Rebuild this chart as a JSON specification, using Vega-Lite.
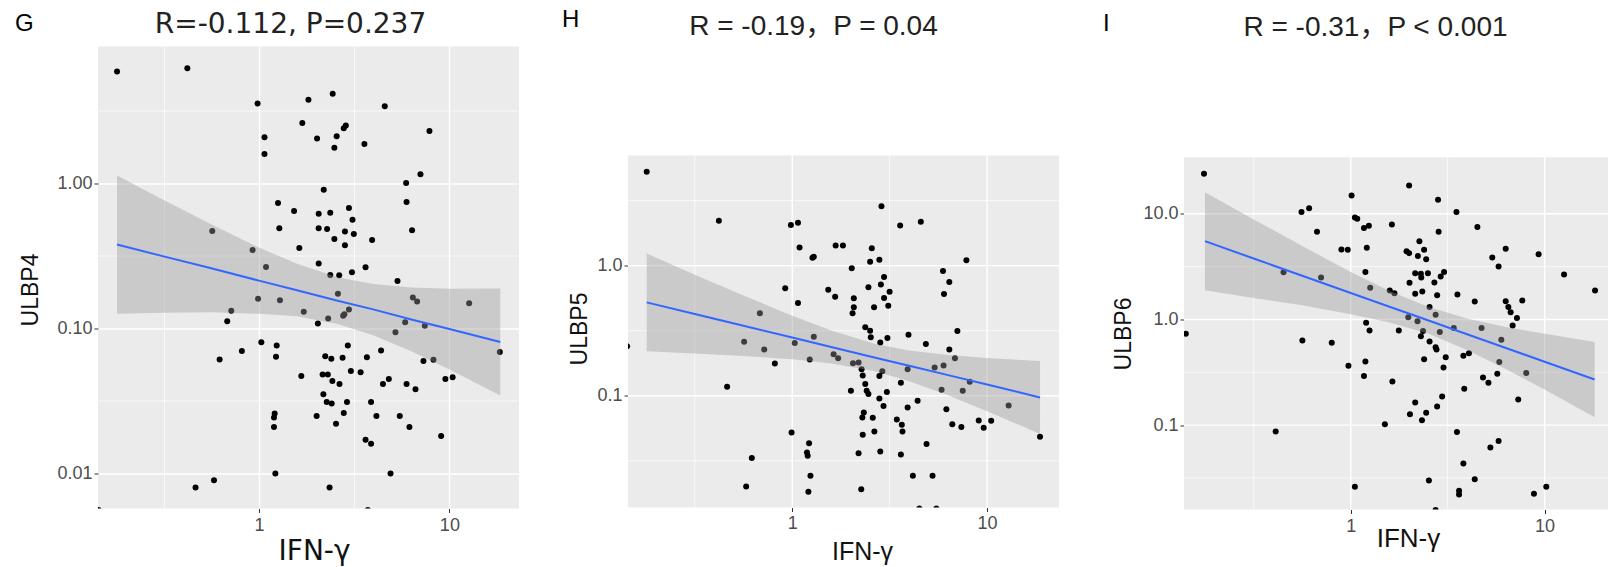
{
  "$schema": "https://vega.github.io/schema/vega-lite/v6.json",
  "background": "white",
  "padding": {"left": 14, "top": 7.5, "right": 0, "bottom": 0},
  "bounds": "full",
  "spacing": 42,
  "config": {
    "view": {"stroke": null},
    "axis": {
      "domain": false,
      "grid": false,
      "gridColor": "#FFFFFF",
      "tickColor": "#333333",
      "tickSize": 4,
      "tickWidth": 1,
      "labelColor": "#4D4D4D",
      "labelFont": "Liberation Sans",
      "labelFontSize": 18,
      "labelOverlap": false,
      "labelFlush": false,
      "titleColor": "#111111",
      "titleFont": "Liberation Sans",
      "titleFontWeight": "normal"
    },
    "title": {"fontWeight": "normal", "color": "#111111", "font": "Liberation Sans", "baseline": "bottom"}
  },
  "datasets": {
    "ptsG": [
      {"x":0.180,"y":5.87},{"x":0.421,"y":6.18},{"x":0.984,"y":3.53},{"x":1.82,"y":3.75},{"x":2.44,"y":4.12},{"x":4.58,"y":3.39},{"x":1.69,"y":2.59},{"x":2.86,"y":2.49},{"x":2.79,"y":2.39},{"x":7.86,"y":2.29},{"x":1.07,"y":2.07},{"x":2.02,"y":2.03},{"x":2.56,"y":2.10},{"x":2.49,"y":1.75},{"x":3.58,"y":1.86},{"x":1.07,"y":1.59},{"x":7.05,"y":1.15},{"x":5.93,"y":1.00},{"x":2.19,"y":0.90},
      {"x":1.26,"y":0.729},{"x":5.96,"y":0.740},{"x":1.53,"y":0.642},{"x":2.06,"y":0.615},{"x":2.37,"y":0.625},{"x":2.97,"y":0.673},{"x":3.10,"y":0.560},{"x":0.569,"y":0.468},{"x":1.28,"y":0.488},{"x":2.06,"y":0.488},{"x":2.28,"y":0.483},{"x":2.83,"y":0.465},{"x":3.15,"y":0.446},{"x":2.49,"y":0.412},{"x":3.93,"y":0.405},{"x":6.37,"y":0.473},{"x":2.83,"y":0.373},{"x":0.927,"y":0.346},{"x":1.63,"y":0.357},{"x":2.06,"y":0.279},{"x":1.09,"y":0.264},{"x":3.63,"y":0.263},{"x":3.08,"y":0.243},{"x":2.37,"y":0.233},{"x":2.64,"y":0.232},{"x":5.34,"y":0.212},{"x":2.60,"y":0.173},{"x":0.99,"y":0.160},{"x":1.29,"y":0.156},{"x":6.43,"y":0.163},{"x":6.77,"y":0.153},{"x":12.7,"y":0.149},{"x":2.97,"y":0.135},{"x":2.81,"y":0.125},{"x":2.77,"y":0.122},{"x":0.716,"y":0.132},{"x":1.72,"y":0.130},{"x":0.682,"y":0.112},{"x":2.31,"y":0.117},{"x":2.04,"y":0.108},{"x":5.86,"y":0.110},{"x":7.43,"y":0.104},{"x":5.21,"y":0.0938},{"x":1.03,"y":0.0801},{"x":1.24,"y":0.0760},{"x":2.93,"y":0.0760},{"x":0.814,"y":0.0698},{"x":4.38,"y":0.0702},{"x":18.4,"y":0.0687},{"x":0.622,"y":0.0609},{"x":1.23,"y":0.0638},{"x":2.23,"y":0.0642},{"x":2.40,"y":0.0618},{"x":2.75,"y":0.0628},{"x":3.69,"y":0.0631},{"x":7.31,"y":0.0596},{"x":8.25,"y":0.0608},{"x":1.67,"y":0.0470},{"x":2.16,"y":0.0480},{"x":2.30,"y":0.0480},{"x":3.04,"y":0.0508},{"x":3.42,"y":0.0498},{"x":2.43,"y":0.0434},{"x":2.65,"y":0.0414},{"x":4.48,"y":0.0414},{"x":4.81,"y":0.0448},{"x":5.96,"y":0.0414},{"x":6.64,"y":0.0380},{"x":9.53,"y":0.0448},{"x":10.4,"y":0.0460},{"x":2.18,"y":0.0351},{"x":2.27,"y":0.0311},{"x":2.41,"y":0.0303},{"x":2.90,"y":0.0311},{"x":3.88,"y":0.0311},{"x":2.79,"y":0.0261},{"x":1.21,"y":0.0259},{"x":1.20,"y":0.0243},{"x":2.01,"y":0.0249},{"x":4.14,"y":0.0249},{"x":5.49,"y":0.0249},{"x":1.20,"y":0.0209},{"x":2.54,"y":0.0220},{"x":6.17,"y":0.0209},{"x":9.05,"y":0.0181},{"x":3.63,"y":0.0171},{"x":3.88,"y":0.0160},{"x":1.22,"y":0.0100},{"x":4.91,"y":0.0100},{"x":0.465,"y":0.0080},{"x":0.581,"y":0.00899},{"x":2.35,"y":0.0080},{"x":3.73,"y":0.0056},{"x":0.144,"y":0.0056}
    ],
    "bandG": [
      {"x":0.180,"fit":0.378,"lo":0.126,"hi":1.13},{"x":0.316,"fit":0.313,"lo":0.128,"hi":0.766},{"x":0.562,"fit":0.259,"lo":0.129,"hi":0.520},{"x":1,"fit":0.213,"lo":0.126,"hi":0.360},{"x":1.585,"fit":0.183,"lo":0.121,"hi":0.278},{"x":2.59,"fit":0.155,"lo":0.107,"hi":0.225},{"x":3.98,"fit":0.135,"lo":0.0895,"hi":0.202},{"x":6.31,"fit":0.115,"lo":0.0695,"hi":0.191},{"x":10,"fit":0.0989,"lo":0.0521,"hi":0.187},{"x":18.5,"fit":0.0805,"lo":0.0345,"hi":0.188}
    ],
    "ptsH": [
      {"x":0.179,"y":5.28},{"x":0.420,"y":2.21},{"x":0.984,"y":2.05},{"x":1.07,"y":2.14},{"x":2.87,"y":2.86},{"x":3.58,"y":2.04},{"x":4.57,"y":2.18},{"x":1.09,"y":1.38},{"x":1.67,"y":1.43},{"x":1.82,"y":1.43},{"x":2.56,"y":1.36},{"x":1.27,"y":1.15},{"x":1.29,"y":1.17},{"x":7.83,"y":1.10},{"x":2.02,"y":0.954},{"x":2.51,"y":1.07},{"x":2.80,"y":1.11},{"x":5.94,"y":0.910},{"x":2.96,"y":0.818},{"x":6.40,"y":0.749},{"x":2.85,"y":0.718},{"x":0.920,"y":0.669},{"x":1.53,"y":0.654},{"x":2.46,"y":0.681},{"x":3.16,"y":0.631},{"x":1.66,"y":0.578},{"x":2.07,"y":0.561},{"x":6.01,"y":0.605},{"x":2.96,"y":0.564},
      {"x":1.07,"y":0.516},{"x":2.07,"y":0.478},{"x":2.04,"y":0.430},{"x":2.63,"y":0.478},{"x":3.11,"y":0.492},{"x":0.682,"y":0.430},{"x":2.37,"y":0.336},{"x":2.51,"y":0.316},{"x":7.04,"y":0.314},{"x":2.53,"y":0.281},{"x":2.83,"y":0.257},{"x":3.08,"y":0.278},{"x":3.95,"y":0.294},{"x":4.85,"y":0.250},{"x":0.566,"y":0.260},{"x":1.03,"y":0.254},{"x":1.29,"y":0.284},{"x":0.718,"y":0.227},{"x":6.40,"y":0.227},{"x":6.84,"y":0.194},{"x":1.23,"y":0.190},{"x":1.63,"y":0.208},{"x":1.72,"y":0.194},{"x":0.814,"y":0.177},{"x":2.05,"y":0.178},{"x":2.19,"y":0.180},{"x":2.27,"y":0.160},{"x":3.91,"y":0.160},{"x":5.38,"y":0.165},{"x":5.98,"y":0.171},{"x":2.30,"y":0.143},{"x":2.80,"y":0.142},{"x":2.90,"y":0.154},{"x":0.463,"y":0.117},{"x":2.37,"y":0.123},{"x":3.61,"y":0.126},{"x":8.15,"y":0.128},{"x":2.41,"y":0.109},{"x":2.46,"y":0.103},{"x":2.00,"y":0.109},{"x":3.06,"y":0.107},{"x":5.84,"y":0.111},{"x":7.50,"y":0.109},{"x":2.80,"y":0.0953},{"x":4.40,"y":0.0916},{"x":2.94,"y":0.0833},{"x":3.91,"y":0.0813},{"x":6.18,"y":0.0789},{"x":12.9,"y":0.0843},{"x":2.33,"y":0.0744},{"x":2.29,"y":0.0681},{"x":2.59,"y":0.0677},{"x":3.44,"y":0.0658},{"x":3.65,"y":0.0598},{"x":3.68,"y":0.0532},{"x":6.63,"y":0.0605},{"x":7.38,"y":0.0574},{"x":9.06,"y":0.0646},{"x":10.5,"y":0.0642},{"x":9.61,"y":0.0567},{"x":0.992,"y":0.0522},{"x":2.30,"y":0.0501},{"x":2.64,"y":0.0532},{"x":18.7,"y":0.0484},{"x":1.22,"y":0.0432},{"x":4.89,"y":0.0425},{"x":1.19,"y":0.0366},{"x":1.20,"y":0.0345},{"x":2.19,"y":0.0362},{"x":2.83,"y":0.0373},{"x":3.61,"y":0.0354},{"x":0.620,"y":0.0332},{"x":1.24,"y":0.0243},{"x":4.16,"y":0.0243},{"x":5.25,"y":0.0243},{"x":0.580,"y":0.0201},{"x":1.21,"y":0.0183},{"x":2.26,"y":0.0191},{"x":4.49,"y":0.0136},{"x":5.49,"y":0.0136},{"x":0.142,"y":0.240}
    ],
    "bandH": [
      {"x":0.179,"fit":0.522,"lo":0.220,"hi":1.24},{"x":0.316,"fit":0.425,"lo":0.211,"hi":0.853},{"x":0.562,"fit":0.345,"lo":0.202,"hi":0.589},{"x":1,"fit":0.280,"lo":0.191,"hi":0.412},{"x":1.585,"fit":0.237,"lo":0.177,"hi":0.317},{"x":2.67,"fit":0.196,"lo":0.154,"hi":0.250},{"x":3.98,"fit":0.170,"lo":0.129,"hi":0.223},{"x":6.31,"fit":0.144,"lo":0.1007,"hi":0.206},{"x":10,"fit":0.122,"lo":0.0760,"hi":0.195},{"x":18.7,"fit":0.0970,"lo":0.0509,"hi":0.185}
    ],
    "ptsI": [
      {"x":0.175,"y":23.9},{"x":2.00,"y":18.5},{"x":1.01,"y":14.9},{"x":2.82,"y":13.6},{"x":0.557,"y":10.4},{"x":0.610,"y":11.3},{"x":3.51,"y":10.4},{"x":1.05,"y":9.23},{"x":1.08,"y":8.97},{"x":1.63,"y":7.93},{"x":0.670,"y":6.76},{"x":2.84,"y":6.76},{"x":1.17,"y":7.32},{"x":1.24,"y":7.70},{"x":4.50,"y":7.48},{"x":2.26,"y":5.51},{"x":0.895,"y":4.60},{"x":0.965,"y":4.56},{"x":1.21,"y":4.77},{"x":1.94,"y":4.43},{"x":2.00,"y":4.24},{"x":2.39,"y":4.56},{"x":2.22,"y":3.98},{"x":2.45,"y":3.72},{"x":6.30,"y":4.67},{"x":5.37,"y":3.86},{"x":9.31,"y":4.15},{"x":5.79,"y":3.17},{"x":0.450,"y":2.79},{"x":0.703,"y":2.50},{"x":1.19,"y":2.81},{"x":2.15,"y":2.74},{"x":2.30,"y":2.70},{"x":2.50,"y":2.74},{"x":3.03,"y":2.81},{"x":2.91,"y":2.55},{"x":2.31,"y":2.50},{"x":2.01,"y":2.22},{"x":2.70,"y":2.24},{"x":12.6,"y":2.67},{"x":1.26,"y":1.99},{"x":1.59,"y":1.88},{"x":1.68,"y":1.77},{"x":2.15,"y":1.75},{"x":2.34,"y":1.84},{"x":2.79,"y":1.69},{"x":3.55,"y":1.72},{"x":18.2,"y":1.88},
      {"x":4.36,"y":1.48},{"x":6.30,"y":1.49},{"x":7.67,"y":1.51},{"x":6.68,"y":1.17},{"x":6.50,"y":1.31},{"x":2.55,"y":1.31},{"x":2.74,"y":1.11},{"x":1.98,"y":1.05},{"x":2.21,"y":0.964},{"x":1.20,"y":0.930},{"x":1.25,"y":0.787},{"x":1.77,"y":0.787},{"x":2.36,"y":0.776},{"x":2.88,"y":0.759},{"x":3.40,"y":0.828},{"x":4.73,"y":0.828},{"x":7.20,"y":1.03},{"x":6.84,"y":0.878},{"x":2.30,"y":0.695},{"x":2.55,"y":0.619},{"x":2.74,"y":0.547},{"x":2.77,"y":0.520},{"x":5.98,"y":0.642},{"x":0.141,"y":0.732},{"x":0.563,"y":0.633},{"x":0.798,"y":0.601},{"x":3.81,"y":0.453},{"x":4.07,"y":0.480},{"x":3.09,"y":0.440},{"x":2.39,"y":0.421},{"x":5.84,"y":0.395},{"x":1.19,"y":0.401},{"x":0.973,"y":0.364},{"x":3.01,"y":0.351},{"x":1.17,"y":0.291},{"x":5.70,"y":0.306},{"x":4.81,"y":0.283},{"x":5.13,"y":0.252},{"x":8.04,"y":0.311},{"x":1.64,"y":0.259},{"x":3.85,"y":0.221},{"x":2.15,"y":0.164},{"x":2.96,"y":0.187},{"x":2.79,"y":0.150},{"x":7.31,"y":0.175},{"x":2.02,"y":0.127},{"x":2.45,"y":0.131},{"x":2.33,"y":0.111},{"x":1.50,"y":0.102},{"x":0.410,"y":0.0871},{"x":3.53,"y":0.0859},{"x":5.79,"y":0.0706},{"x":5.25,"y":0.0615},{"x":3.81,"y":0.0434},{"x":4.36,"y":0.0308},{"x":2.53,"y":0.0299},{"x":1.05,"y":0.0261},{"x":10.2,"y":0.0261},{"x":3.62,"y":0.0239},{"x":3.62,"y":0.0221},{"x":8.81,"y":0.0224},{"x":2.74,"y":0.0157}
    ],
    "bandI": [
      {"x":0.177,"fit":5.51,"lo":1.89,"hi":16.0},{"x":0.316,"fit":3.77,"lo":1.60,"hi":8.85},{"x":0.562,"fit":2.59,"lo":1.36,"hi":4.95},{"x":1,"fit":1.78,"lo":1.12,"hi":2.82},{"x":1.585,"fit":1.32,"lo":0.938,"hi":1.86},{"x":2.52,"fit":0.977,"lo":0.731,"hi":1.31},{"x":3.98,"fit":0.724,"lo":0.515,"hi":1.02},{"x":6.31,"fit":0.537,"lo":0.339,"hi":0.849},{"x":10,"fit":0.398,"lo":0.217,"hi":0.731},{"x":18.1,"fit":0.270,"lo":0.119,"hi":0.612}
    ],
    "one": [{}],
    "gridMinorX": [{"v": 0.316}, {"v": 3.16}],
    "gridMajorX": [{"v": 1}, {"v": 10}],
    "gridMinorYH": [{"v": 0.0316}, {"v": 0.316}, {"v": 3.16}],
    "gridMajorYH": [{"v": 0.1}, {"v": 1}],
    "gridMinorYI": [{"v": 0.0316}, {"v": 0.316}, {"v": 3.16}],
    "gridMajorYI": [{"v": 0.1}, {"v": 1}, {"v": 10}]
  },
  "hconcat": [
    {
      "title": {"text": "G", "anchor": "start", "frame": "bounds", "fontSize": 24, "offset": -25, "dx": -4.6, "color": "#000000"},
      "vconcat": [
        {
          "width": 421, "height": 462,
          "view": {"fill": "#EBEBEB", "stroke": null},
          "title": {"text": "R=-0.112, P=0.237", "font": "DejaVu Sans", "fontSize": 28, "anchor": "middle", "frame": "group", "offset": 7.3, "dx": -18, "color": "#222222"},
          "encoding": {
            "x": {"field": "x", "type": "quantitative", "title": "IFN-γ",
              "scale": {"type": "log", "domain": [0.143, 23.2], "nice": false, "zero": false},
              "axis": {"grid": true, "values": [0.316, 1, 3.16, 10], "labelPadding": 4.3, "titlePadding": 2.3, "titleFont": "DejaVu Sans", "titleFontSize": 28, "titleX": 216,
                "labelExpr": "abs(log(datum.value)/LN10 - round(log(datum.value)/LN10)) < 0.01 ? format(datum.value, 'd') : ''",
                "tickOpacity": {"condition": {"test": "abs(log(datum.value)/LN10 - round(log(datum.value)/LN10)) < 0.01", "value": 1}, "value": 0},
                "gridWidth": {"condition": {"test": "abs(log(datum.value)/LN10 - round(log(datum.value)/LN10)) < 0.01", "value": 1.4}, "value": 0.7}}}
          },
          "layer": [
            {"data": {"name": "ptsG"}, "mark": {"type": "circle", "size": 36, "color": "#000000", "opacity": 1, "clip": true},
              "encoding": {"y": {"field": "y", "type": "quantitative", "title": "ULBP4",
                "scale": {"type": "log", "domain": [0.00574, 8.73], "nice": false, "zero": false},
                "axis": {"grid": true, "values": [0.01, 0.0316, 0.1, 0.316, 1, 3.16], "labelPadding": 2, "titlePadding": 14.4, "titleFontSize": 23, "titleY": 243,
                  "labelExpr": "abs(log(datum.value)/LN10 - round(log(datum.value)/LN10)) < 0.01 ? format(datum.value, '.2f') : ''",
                  "tickOpacity": {"condition": {"test": "abs(log(datum.value)/LN10 - round(log(datum.value)/LN10)) < 0.01", "value": 1}, "value": 0},
                  "gridWidth": {"condition": {"test": "abs(log(datum.value)/LN10 - round(log(datum.value)/LN10)) < 0.01", "value": 1.4}, "value": 0.7}}}}},
            {"data": {"name": "bandG"}, "mark": {"type": "area", "color": "#999999", "opacity": 0.4},
              "encoding": {"y": {"field": "lo", "type": "quantitative", "title": "ULBP4", "scale": {"type": "log", "domain": [0.00574, 8.73], "nice": false, "zero": false}}, "y2": {"field": "hi"}}},
            {"data": {"name": "bandG"}, "mark": {"type": "line", "color": "#3366FF", "strokeWidth": 2},
              "encoding": {"y": {"field": "fit", "type": "quantitative", "title": "ULBP4", "scale": {"type": "log", "domain": [0.00574, 8.73], "nice": false, "zero": false}}}}
          ]
        }
      ]
    },
    {
      "title": {"text": "H", "anchor": "start", "frame": "bounds", "fontSize": 24, "offset": -19.1, "dx": -6.7, "color": "#000000"},
      "vconcat": [
        {
          "width": 431, "height": 461,
          "title": {"text": "R = -0.19，P = 0.04", "font": "Liberation Sans, Noto Sans CJK SC", "fontSize": 28, "anchor": "middle", "frame": "group", "offset": 5.3, "dx": -30, "color": "#222222"},
          "layer": [
            {"data": {"name": "one"}, "mark": {"type": "rect", "color": "#EBEBEB"},
              "encoding": {
                "x": {"datum": 0.1435, "type": "quantitative", "scale": {"type": "log", "domain": [0.1435, 23.4], "nice": false, "zero": false}},
                "x2": {"datum": 23.4},
                "y": {"datum": 0.01383, "type": "quantitative", "scale": {"type": "log", "domain": [0.01383, 48.4], "nice": false, "zero": false}},
                "y2": {"datum": 7.02}}},
            {"data": {"name": "gridMinorX"}, "mark": {"type": "rule", "color": "#FFFFFF", "strokeWidth": 0.7},
              "encoding": {"x": {"field": "v", "type": "quantitative", "title": "IFN-γ", "scale": {"type": "log", "domain": [0.1435, 23.4], "nice": false, "zero": false}}}},
            {"data": {"name": "gridMajorX"}, "mark": {"type": "rule", "color": "#FFFFFF", "strokeWidth": 1.4},
              "encoding": {"x": {"field": "v", "type": "quantitative", "title": "IFN-γ", "scale": {"type": "log", "domain": [0.1435, 23.4], "nice": false, "zero": false}}}},
            {"data": {"name": "gridMinorYH"}, "mark": {"type": "rule", "color": "#FFFFFF", "strokeWidth": 0.7},
              "encoding": {"y": {"field": "v", "type": "quantitative", "title": "ULBP5", "scale": {"type": "log", "domain": [0.01383, 48.4], "nice": false, "zero": false}}}},
            {"data": {"name": "gridMajorYH"}, "mark": {"type": "rule", "color": "#FFFFFF", "strokeWidth": 1.4},
              "encoding": {"y": {"field": "v", "type": "quantitative", "title": "ULBP5", "scale": {"type": "log", "domain": [0.01383, 48.4], "nice": false, "zero": false}}}},
            {"data": {"name": "ptsH"}, "mark": {"type": "circle", "size": 36, "color": "#000000", "opacity": 1, "clip": true},
              "encoding": {
                "x": {"field": "x", "type": "quantitative", "title": "IFN-γ",
                  "scale": {"type": "log", "domain": [0.1435, 23.4], "nice": false, "zero": false},
                  "axis": {"values": [1, 10], "format": "d", "labelPadding": 2.9, "titlePadding": 7.3, "titleFontSize": 25, "titleX": 234}},
                "y": {"field": "y", "type": "quantitative", "title": "ULBP5",
                  "scale": {"type": "log", "domain": [0.01383, 48.4], "nice": false, "zero": false},
                  "axis": {"values": [0.1, 1], "format": ".1f", "labelPadding": 2, "titlePadding": 5.4, "titleFontSize": 23, "titleY": 282}}}},
            {"data": {"name": "bandH"}, "mark": {"type": "area", "color": "#999999", "opacity": 0.4},
              "encoding": {
                "x": {"field": "x", "type": "quantitative", "title": "IFN-γ", "scale": {"type": "log", "domain": [0.1435, 23.4], "nice": false, "zero": false}},
                "y": {"field": "lo", "type": "quantitative", "title": "ULBP5", "scale": {"type": "log", "domain": [0.01383, 48.4], "nice": false, "zero": false}}, "y2": {"field": "hi"}}},
            {"data": {"name": "bandH"}, "mark": {"type": "line", "color": "#3366FF", "strokeWidth": 2},
              "encoding": {
                "x": {"field": "x", "type": "quantitative", "title": "IFN-γ", "scale": {"type": "log", "domain": [0.1435, 23.4], "nice": false, "zero": false}},
                "y": {"field": "fit", "type": "quantitative", "title": "ULBP5", "scale": {"type": "log", "domain": [0.01383, 48.4], "nice": false, "zero": false}}}}
          ]
        }
      ]
    },
    {
      "title": {"text": "I", "anchor": "start", "frame": "bounds", "fontSize": 24, "offset": -22, "dx": -10, "color": "#000000"},
      "vconcat": [
        {
          "width": 427, "height": 463,
          "title": {"text": "R = -0.31，P < 0.001", "font": "Liberation Sans, Noto Sans CJK SC", "fontSize": 28, "anchor": "middle", "frame": "group", "offset": 3.6, "dx": -22, "color": "#222222"},
          "layer": [
            {"data": {"name": "one"}, "mark": {"type": "rect", "color": "#EBEBEB"},
              "encoding": {
                "x": {"datum": 0.138, "type": "quantitative", "scale": {"type": "log", "domain": [0.138, 22.0], "nice": false, "zero": false}},
                "x2": {"datum": 22.0},
                "y": {"datum": 0.0159, "type": "quantitative", "scale": {"type": "log", "domain": [0.0159, 383], "nice": false, "zero": false}},
                "y2": {"datum": 34.3}}},
            {"data": {"name": "gridMinorX"}, "mark": {"type": "rule", "color": "#FFFFFF", "strokeWidth": 0.7},
              "encoding": {"x": {"field": "v", "type": "quantitative", "title": "IFN-γ", "scale": {"type": "log", "domain": [0.138, 22.0], "nice": false, "zero": false}}}},
            {"data": {"name": "gridMajorX"}, "mark": {"type": "rule", "color": "#FFFFFF", "strokeWidth": 1.4},
              "encoding": {"x": {"field": "v", "type": "quantitative", "title": "IFN-γ", "scale": {"type": "log", "domain": [0.138, 22.0], "nice": false, "zero": false}}}},
            {"data": {"name": "gridMinorYI"}, "mark": {"type": "rule", "color": "#FFFFFF", "strokeWidth": 0.7},
              "encoding": {"y": {"field": "v", "type": "quantitative", "title": "ULBP6", "scale": {"type": "log", "domain": [0.0159, 383], "nice": false, "zero": false}}}},
            {"data": {"name": "gridMajorYI"}, "mark": {"type": "rule", "color": "#FFFFFF", "strokeWidth": 1.4},
              "encoding": {"y": {"field": "v", "type": "quantitative", "title": "ULBP6", "scale": {"type": "log", "domain": [0.0159, 383], "nice": false, "zero": false}}}},
            {"data": {"name": "ptsI"}, "mark": {"type": "circle", "size": 36, "color": "#000000", "opacity": 1, "clip": true},
              "encoding": {
                "x": {"field": "x", "type": "quantitative", "title": "IFN-γ",
                  "scale": {"type": "log", "domain": [0.138, 22.0], "nice": false, "zero": false},
                  "axis": {"values": [1, 10], "format": "d", "labelPadding": 3.9, "titlePadding": -9.5, "titleFontSize": 26, "titleX": 224}},
                "y": {"field": "y", "type": "quantitative", "title": "ULBP6",
                  "scale": {"type": "log", "domain": [0.0159, 383], "nice": false, "zero": false},
                  "axis": {"values": [0.1, 1, 10], "format": ".1f", "labelPadding": 2, "titlePadding": 7, "titleFontSize": 23, "titleY": 287}}}},
            {"data": {"name": "bandI"}, "mark": {"type": "area", "color": "#999999", "opacity": 0.4},
              "encoding": {
                "x": {"field": "x", "type": "quantitative", "title": "IFN-γ", "scale": {"type": "log", "domain": [0.138, 22.0], "nice": false, "zero": false}},
                "y": {"field": "lo", "type": "quantitative", "title": "ULBP6", "scale": {"type": "log", "domain": [0.0159, 383], "nice": false, "zero": false}}, "y2": {"field": "hi"}}},
            {"data": {"name": "bandI"}, "mark": {"type": "line", "color": "#3366FF", "strokeWidth": 2},
              "encoding": {
                "x": {"field": "x", "type": "quantitative", "title": "IFN-γ", "scale": {"type": "log", "domain": [0.138, 22.0], "nice": false, "zero": false}},
                "y": {"field": "fit", "type": "quantitative", "title": "ULBP6", "scale": {"type": "log", "domain": [0.0159, 383], "nice": false, "zero": false}}}}
          ]
        }
      ]
    }
  ]
}
